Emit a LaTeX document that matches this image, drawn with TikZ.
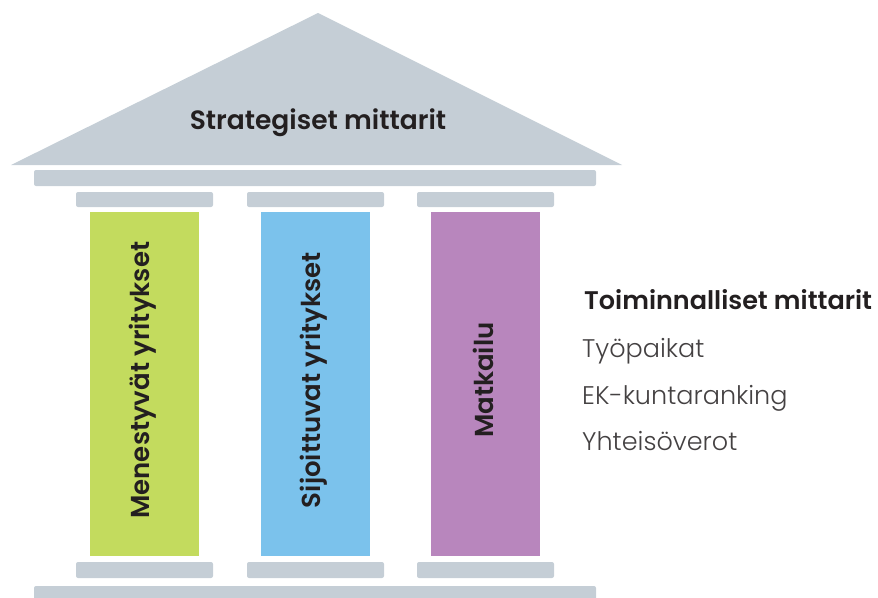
\documentclass[tikz,border=0pt]{standalone}
\usepackage{fontspec}
\setmainfont{Poppins}[BoldFont={* SemiBold}]
\newfontfamily\lightfont{Poppins}[UprightFont={* Light}]
\usetikzlibrary{positioning}
\definecolor{roofgray}{HTML}{C5CED6}
\definecolor{pgreen}{HTML}{C3DB5E}
\definecolor{pblue}{HTML}{7BC2EC}
\definecolor{ppurple}{HTML}{B886BD}
\definecolor{ink}{HTML}{231F20}

\begin{document}
\begin{tikzpicture}[x=1pt,y=-1pt,
    slab/.style={fill=roofgray, rounded corners=2pt},
    pillar/.style={rectangle, fill=#1, minimum width=109pt, minimum height=344pt, inner sep=0pt, anchor=north west},
    pillarlabel/.style={rotate=90, font=\bfseries\fontsize{26}{30}\selectfont, text=ink, inner sep=0pt},
    heading/.style={font=\bfseries\fontsize{26.5}{30}\selectfont, text=ink, inner sep=0pt},
    metric/.style={anchor=base west, font=\lightfont\fontsize{25.5}{30}\selectfont, text=ink!85, inner sep=0pt}]
    \useasboundingbox (0,0) rectangle (878,597);

    % roof and beam
    \fill[roofgray] (11,165) -- (318,13) -- (622,165) -- cycle;
    \node[heading] (roof) at (318,123) {Strategiset mittarit};
    \fill[slab] (34,170) rectangle (596,186);

    % pillars
    \foreach \px/\col/\nm/\txt in {90/pgreen/green/Menestyvät yritykset,
                                  261/pblue/blue/Sijoittuvat yritykset,
                                  431/ppurple/purple/Matkailu} {
        \fill[slab] (\px-14,192) rectangle (\px+123,207);
        \node[pillar=\col] (\nm) at (\px,212) {};
        \node[pillarlabel] (\nm-label) at ([xshift=-2pt,yshift=4pt]\nm.center) {\txt};
        \fill[slab] (\px-14,562) rectangle (\px+123,578);
    }
    \fill[slab] (34,586) rectangle (596,610);

    % side list
    \node[metric, font=\bfseries\fontsize{25.5}{30}\selectfont, text=ink] (ops) at (584,309) {Toiminnalliset mittarit};
    \node[metric] (jobs) at (582,357) {Työpaikat};
    \node[metric] (ek) at (582,404) {EK-kuntaranking};
    \node[metric] (tax) at (582,450) {Yhteisöverot};
\end{tikzpicture}
\end{document}
